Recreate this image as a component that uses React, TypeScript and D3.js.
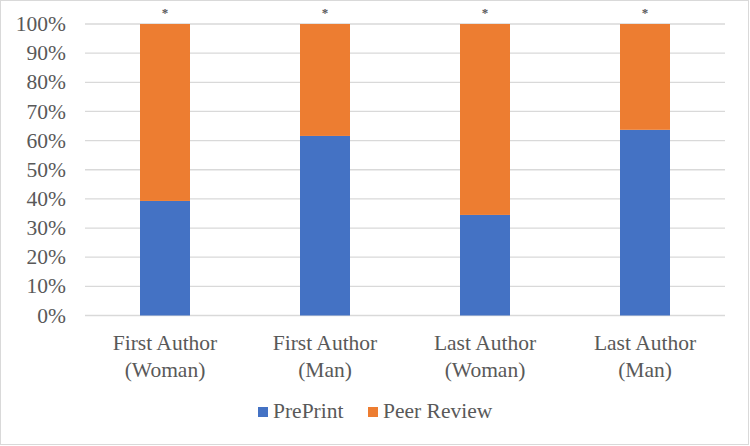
import * as d3 from 'd3'

const categories = [
  ['First Author', '(Woman)'],
  ['First Author', '(Man)'],
  ['Last Author', '(Woman)'],
  ['Last Author', '(Man)'],
]
const prePrint = [39.3, 61.6, 34.5, 63.7]
const peerReview = prePrint.map(v => 100 - v)
const seriesNames = ['PrePrint', 'Peer Review']
const seriesColors = ['#4472C4', '#ED7D31']
const yTicks = d3.range(0, 101, 10)
const marks = ['*', '*', '*', '*']

const W = 750
const H = 446
const left = 85
const right = 725
const top = 24
const bottom = 315.5

const font = 'Liberation Serif'
const textColor = '#595959'

export default function App() {
  const x = d3
    .scaleBand<number>()
    .domain(d3.range(categories.length))
    .range([left, right])
    .paddingInner(0.6875)
    .paddingOuter(0.34375)
  const y = d3.scaleLinear().domain([0, 100]).range([bottom, top])
  const cx = (i: number) => (x(i) ?? 0) + x.bandwidth() / 2

  const rows = categories.map((_, i) => ({ i, PrePrint: prePrint[i], 'Peer Review': peerReview[i] }))
  const stacked = d3.stack<any>().keys(seriesNames)(rows)

  return (
    <svg width={W} height={H} style={{ display: 'block', position: 'absolute', left: 0, top: 0 }} fontFamily={font}>
      <rect x={0.5} y={0.5} width={W - 2} height={H - 2} fill="white" stroke="#d9d9d9" />
      <g>
        {yTicks.map(t => (
          <g key={t}>
            <line x1={left} x2={right} y1={y(t)} y2={y(t)} stroke="#d9d9d9" strokeWidth={1.3} />
            <text x={left - 19} y={y(t)} dy="0.33em" textAnchor="end" fontSize={21.5} fill={textColor}>
              {t}%
            </text>
          </g>
        ))}
      </g>
      <g>
        {stacked.map((s, si) =>
          s.map((d, i) => (
            <rect
              key={`${si}-${i}`}
              x={x(i)}
              width={x.bandwidth()}
              y={y(d[1])}
              height={y(d[0]) - y(d[1])}
              fill={seriesColors[si]}
            />
          ))
        )}
      </g>
      <g>
        {marks.map((m, i) => (
          <text key={i} x={cx(i)} y={17} textAnchor="middle" fontSize={13} fontWeight="bold" fill={textColor}>
            {m}
          </text>
        ))}
      </g>
      <g>
        {categories.map((lines, i) => (
          <text key={i} textAnchor="middle" fontSize={21.5} fill={textColor}>
            <tspan x={cx(i)} y={350}>{lines[0]}</tspan>
            <tspan x={cx(i)} y={377}>{lines[1]}</tspan>
          </text>
        ))}
      </g>
      <g>
        {seriesNames.map((n, i) => {
          const lx = i === 0 ? 258 : 368
          return (
            <g key={n}>
              <rect x={lx} y={407} width={10} height={10} fill={seriesColors[i]} />
              <text x={lx + 15} y={418} fontSize={21.5} fill={textColor}>
                {n}
              </text>
            </g>
          )
        })}
      </g>
    </svg>
  )
}
